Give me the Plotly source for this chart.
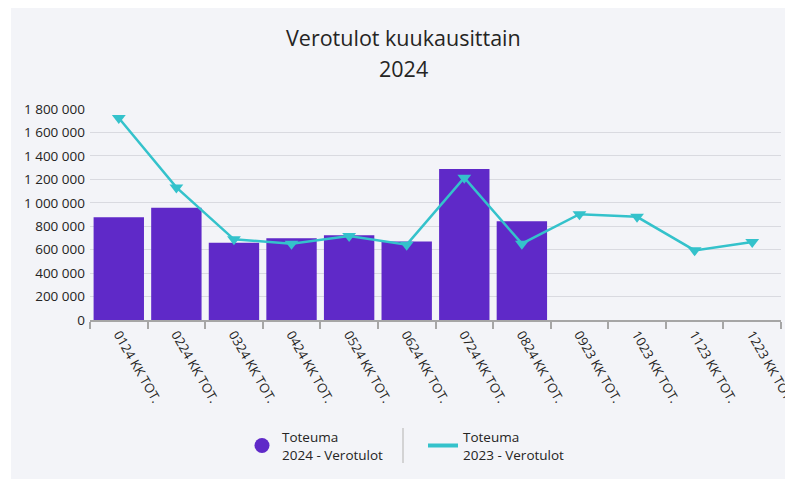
import plotly.graph_objects as go

categories = ["0124 KK TOT.", "0224 KK TOT.", "0324 KK TOT.", "0424 KK TOT.", "0524 KK TOT.",
              "0624 KK TOT.", "0724 KK TOT.", "0824 KK TOT.", "0923 KK TOT.", "1023 KK TOT.",
              "1123 KK TOT.", "1223 KK TOT."]
toteuma_2024 = [877000, 957000, 660000, 697000, 723000, 669000, 1289000, 843000, None, None, None, None]
toteuma_2023 = [1723000, 1131000, 688000, 651000, 717000, 643000, 1214000, 651000, 903000, 880000, 594000, 665000]
y_ticks = [0, 200000, 400000, 600000, 800000, 1000000, 1200000, 1400000, 1600000, 1800000]
name_2024 = "Toteuma<br>2024 - Verotulot"
name_2023 = "Toteuma<br>2023 - Verotulot"
title_lines = ["Verotulot kuukausittain", "2024"]

BAR = "#5F29C8"
LINE = "#34C2CB"
TEXT = "#252423"
BG = "#F3F4F8"
FONT = "Open Sans"

W, H = 785, 479
L, R, T, B = 90, 4, 109, 159
pw, ph = W - L - R, H - T - B


def px(x):
    return (x - L) / pw


def py(y):
    return (H - B - y) / ph


fig = go.Figure()
fig.add_trace(go.Bar(x=categories, y=toteuma_2024, marker=dict(color=BAR, line=dict(width=0)),
                     showlegend=False, name=name_2024))
fig.add_trace(go.Scatter(x=categories, y=toteuma_2023, mode="lines+markers",
                         line=dict(color=LINE, width=2.5),
                         marker=dict(symbol="triangle-down", size=12, color=LINE),
                         showlegend=False, name=name_2023))
# legend entries
fig.add_trace(go.Scatter(x=[None], y=[None], mode="markers", name=name_2024,
                         marker=dict(symbol="circle", size=15, color=BAR)))
fig.add_trace(go.Scatter(x=[None], y=[None], mode="lines", name=name_2023,
                         line=dict(color=LINE, width=4)))

fig.update_layout(
    width=W, height=H,
    margin=dict(l=L, r=R, t=T, b=B, autoexpand=False),
    paper_bgcolor="white",
    plot_bgcolor="rgba(0,0,0,0)",
    separators=", ",
    font=dict(family=FONT, color=TEXT, size=13),
    bargap=0.125,
    xaxis=dict(type="category", tickangle=60, showgrid=False,
               showline=True, linecolor="#A6A6A6", linewidth=2,
               ticks="outside", tickson="boundaries", ticklen=7, tickwidth=2, tickcolor="#A6A6A6",
               tickfont=dict(size=13, color=TEXT), range=[-0.5, 11.5]),
    yaxis=dict(range=[0, 1800000], tickvals=y_ticks, tickformat=",d",
               showgrid=True, gridcolor="#D9DAE0", gridwidth=1, zeroline=False,
               showline=False, ticks="", tickfont=dict(size=13.5, color=TEXT),
               ticklabelstandoff=4),
    legend=dict(orientation="h", x=px(242), xanchor="left", y=py(446), yanchor="middle",
                entrywidth=136, entrywidthmode="pixels", bgcolor="rgba(0,0,0,0)",
                font=dict(size=13.5, color=TEXT), itemsizing="trace", valign="middle"),
    shapes=[
        dict(type="rect", xref="paper", yref="paper", x0=px(11), x1=px(800), y0=py(8), y1=py(490),
             fillcolor=BG, line=dict(width=0), layer="below"),
        dict(type="line", xref="paper", yref="paper", x0=px(403), x1=px(403), y0=py(428), y1=py(463),
             line=dict(color="#C8C8C8", width=1.5)),
    ],
    annotations=[
        dict(text=title_lines[0], xref="paper", yref="paper", x=px(403), y=py(37), showarrow=False,
             xanchor="center", yanchor="middle", font=dict(size=21.5, color=TEXT)),
        dict(text=title_lines[1], xref="paper", yref="paper", x=px(403), y=py(68), showarrow=False,
             xanchor="center", yanchor="middle", font=dict(size=21.5, color=TEXT)),
    ],
)

fig.write_html("out.html", config={"displayModeBar": False},
               post_script="document.body.style.margin='0';document.body.style.overflow='hidden';")
